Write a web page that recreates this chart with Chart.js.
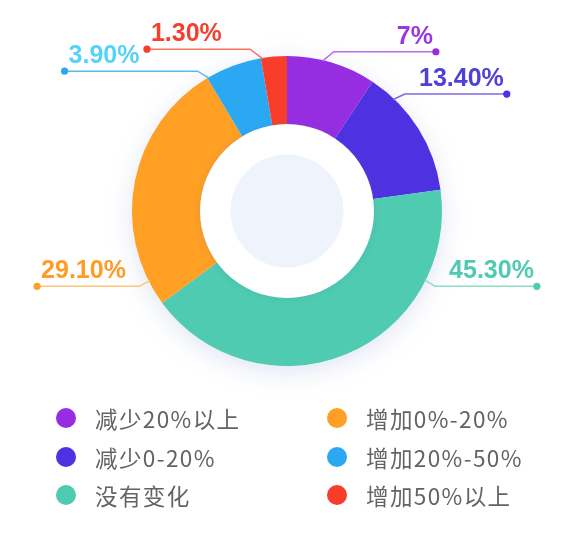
<!DOCTYPE html>
<html>
<head>
<meta charset="utf-8">
<script src="https://cdn.jsdelivr.net/npm/chart.js@4/dist/chart.umd.min.js"></script>
<style>
  html, body { margin: 0; padding: 0; background: #fff; }
  #wrap { position: relative; width: 588px; height: 546px; overflow: hidden; }
  #ring_chart { position: absolute; left: 0; top: 0; }
  .legend_item {
    position: absolute; height: 26px; line-height: 26px;
    font-family: "Noto Sans CJK SC", "Noto Sans", sans-serif;
    font-size: 22.5px; letter-spacing: 1.4px; color: #636363; white-space: nowrap;
  }
  .legend_dot {
    position: absolute; width: 20px; height: 20px; border-radius: 50%; top: 3px;
  }
</style>
</head>
<body>
<div id="wrap">
  <canvas id="ring_chart" width="588" height="546"></canvas>
</div>
<script>
// categories, in the order the ring is drawn (clockwise from 12 o'clock)
const categories = ['减少20%以上', '减少0-20%', '没有变化', '增加0%-20%', '增加20%-50%', '增加50%以上'];
// percentages printed next to the ring
const share_labels = ['7%', '13.40%', '45.30%', '29.10%', '3.90%', '1.30%'];
// arc sizes as measured on the picture (the arcs are not drawn in proportion to the printed numbers)
const arc_sizes = [9.3, 13.5, 42.1, 26.5, 5.9, 2.7];
// legend order (two columns, row by row)
const legend_order = [0, 3, 1, 4, 2, 5];

const slice_colors = ['#962de1', '#4e32e1', '#4ecbb0', '#ff9f24', '#2ba8f2', '#f83d2b'];
const text_colors = ['#9a38e0', '#5040d8', '#4ecbb0', '#ff9c25', '#55d2f8', '#f4402e'];
const line_colors = ['#b56ee8', '#7d6ae4', '#8ddcca', '#ffc47c', '#5bb8f2', '#f7735f'];

// where each leader line leaves the ring and where it bends (degrees, clockwise from top)
const label_layout = [
  { anchor: 13.3, elbow: 16.4, len: 102 },
  { anchor: 43.6, elbow: 45.2, len: 102 },
  { anchor: 116.6, elbow: 117.0, len: 102 },
  { anchor: 243.0, elbow: 243.0, len: 102 },
  { anchor: 329.6, elbow: 327.4, len: 133 },
  { anchor: 351.0, elbow: 347.1, len: 103 }
];

function polar(cx, cy, r, deg) {
  const a = deg * Math.PI / 180;
  return { x: cx + r * Math.sin(a), y: cy - r * Math.cos(a) };
}

// white disc with a soft glow behind the ring
const ringBackdrop = {
  id: 'ringBackdrop',
  beforeDatasetsDraw(chart) {
    const arc = chart.getDatasetMeta(0).data[0];
    if (!arc) return;
    const ctx = chart.ctx;
    ctx.save();
    ctx.shadowColor = 'rgba(110, 130, 200, 0.22)';
    ctx.shadowBlur = 26;
    ctx.shadowOffsetY = 6;
    ctx.fillStyle = '#fff';
    ctx.beginPath();
    ctx.arc(arc.x, arc.y, arc.outerRadius - 1, 0, Math.PI * 2);
    ctx.fill();
    ctx.restore();
  }
};

// white inner circle + pale blue core
const ringCenter = {
  id: 'ringCenter',
  afterDatasetsDraw(chart) {
    const arc = chart.getDatasetMeta(0).data[0];
    if (!arc) return;
    const ctx = chart.ctx;
    ctx.save();
    ctx.shadowColor = 'rgba(90, 110, 170, 0.18)';
    ctx.shadowBlur = 6;
    ctx.fillStyle = '#fff';
    ctx.beginPath();
    ctx.arc(arc.x, arc.y, 87, 0, Math.PI * 2);
    ctx.fill();
    ctx.restore();
    ctx.fillStyle = '#eef3fc';
    ctx.beginPath();
    ctx.arc(arc.x, arc.y, 56.5, 0, Math.PI * 2);
    ctx.fill();
  }
};

// percentage labels with leader lines
const outsideLabels = {
  id: 'outsideLabels',
  afterDraw(chart) {
    const meta = chart.getDatasetMeta(0);
    const ctx = chart.ctx;
    meta.data.forEach((arc, i) => {
      const lay = label_layout[i];
      const start = polar(arc.x, arc.y, arc.outerRadius - 1, lay.anchor);
      const elbow = polar(arc.x, arc.y, arc.outerRadius + 11, lay.elbow);
      const right = elbow.x > arc.x;
      const endX = right ? elbow.x + lay.len : elbow.x - lay.len;

      ctx.save();
      ctx.strokeStyle = line_colors[i];
      ctx.lineWidth = 1.5;
      ctx.beginPath();
      ctx.moveTo(start.x, start.y);
      ctx.lineTo(elbow.x, elbow.y);
      ctx.lineTo(endX, elbow.y);
      ctx.stroke();

      ctx.fillStyle = slice_colors[i];
      ctx.beginPath();
      ctx.arc(endX, elbow.y, 3.6, 0, Math.PI * 2);
      ctx.fill();

      ctx.fillStyle = text_colors[i];
      ctx.font = 'bold 25px "Liberation Sans", Arial, sans-serif';
      ctx.textBaseline = 'alphabetic';
      ctx.textAlign = right ? 'right' : 'left';
      ctx.fillText(share_labels[i], right ? endX - 3 : endX + 4, elbow.y - 8);
      ctx.restore();
    });
  }
};

const ctx_ring = document.getElementById('ring_chart');

const ringChart = new Chart(ctx_ring, {
  type: 'doughnut',
  data: {
    labels: categories,
    datasets: [{
      data: arc_sizes,
      backgroundColor: slice_colors,
      borderWidth: 0
    }]
  },
  options: {
    responsive: false,
    animation: false,
    cutout: '55%',
    layout: {
      padding: { left: 132, right: 146, top: 56, bottom: 180 }
    },
    plugins: {
      legend: { display: false },
      tooltip: { enabled: false }
    }
  },
  plugins: [ringBackdrop, ringCenter, outsideLabels]
});

// two-column legend under the ring
const wrap = document.getElementById('wrap');
legend_order.forEach((idx, n) => {
  const col = n % 2;
  const row = Math.floor(n / 2);
  const item = document.createElement('div');
  item.className = 'legend_item';
  item.style.left = (col === 0 ? 56 : 327) + 'px';
  item.style.top = (405 + row * 38.5) + 'px';
  const dot = document.createElement('span');
  dot.className = 'legend_dot';
  dot.style.left = '0px';
  dot.style.background = slice_colors[idx];
  const txt = document.createElement('span');
  txt.style.marginLeft = '39px';
  txt.textContent = categories[idx];
  item.appendChild(dot);
  item.appendChild(txt);
  wrap.appendChild(item);
});
</script>
</body>
</html>
